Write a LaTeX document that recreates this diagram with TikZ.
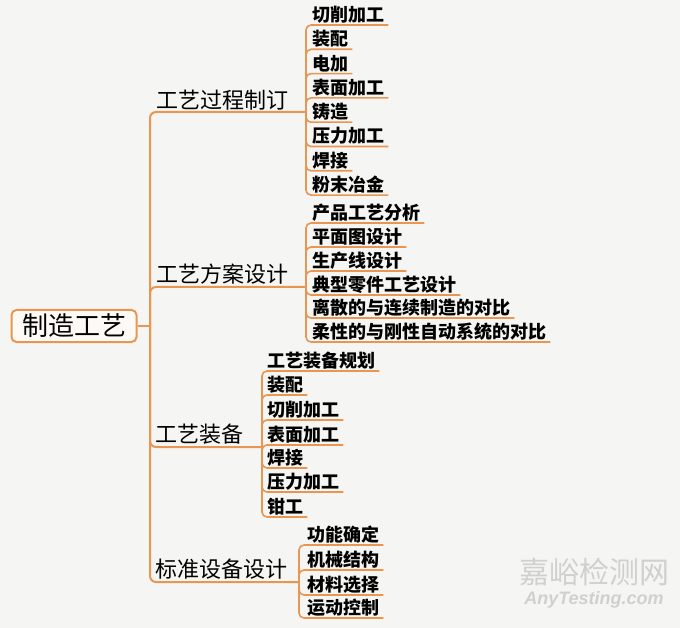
\documentclass[tikz,border=0pt]{standalone}
\usepackage{fontspec}
\usepackage{xcolor}
\setmainfont{Noto Sans CJK SC}
\newfontfamily\markfont{Liberation Sans}
\definecolor{branchorange}{RGB}{232,150,82}
\definecolor{paper}{RGB}{245,245,243}
\definecolor{rootfill}{RGB}{253,250,246}
\definecolor{markgray}{RGB}{208,208,208}
\tikzstyle{rootbox} = [rectangle,
                       rounded corners=5pt,
                       minimum width=125pt,
                       minimum height=32pt,
                       draw=branchorange,
                       line width=2pt,
                       fill=rootfill,
                       font=\fontsize{26}{26}\selectfont]
\tikzstyle{topic} = [anchor=south west,
                     inner xsep=4pt,
                     inner ysep=2pt,
                     font=\fontsize{22}{22}\selectfont]
\tikzstyle{leaf} = [anchor=south west,
                    inner xsep=4pt,
                    inner ysep=1.5pt,
                    font=\bfseries\fontsize{18}{18}\selectfont]
\tikzstyle{trunk} = [draw=branchorange,
                     line width=2pt,
                     rounded corners=6pt]
\tikzstyle{twig} = [draw=branchorange,
                    line width=1.6pt,
                    rounded corners=5pt]
\tikzstyle{watermark} = [text=markgray]

\begin{document}
\begin{tikzpicture}[x=1pt, y=-1pt]
    \fill [paper] (0,0) rectangle (680,628);

    \node (root) [rootbox] at (74,326) {制造工艺};
    \coordinate (spine) at (150,326);

    \coordinate (j1) at (306,112);
    \coordinate (j2) at (306,287);
    \coordinate (j3) at (262,447);
    \coordinate (j4) at (299,582);

    \node (t1) [topic] at (152,112) {工艺过程制订};
    \node (t2) [topic] at (152,287) {工艺方案设计};
    \node (t3) [topic] at (151,447) {工艺装备};
    \node (t4) [topic] at (151,582) {标准设备设计};

    \node (c11) [leaf] at (308,25.0)  {切削加工};
    \node (c12) [leaf] at (308,49.3)  {装配};
    \node (c13) [leaf] at (308,73.6)  {电加};
    \node (c14) [leaf] at (308,97.9)  {表面加工};
    \node (c15) [leaf] at (308,122.2) {铸造};
    \node (c16) [leaf] at (308,146.5) {压力加工};
    \node (c17) [leaf] at (308,170.8) {焊接};
    \node (c18) [leaf] at (308,195.1) {粉末冶金};

    \node (c21) [leaf] at (308,223) {产品工艺分析};
    \node (c22) [leaf] at (308,247) {平面图设计};
    \node (c23) [leaf] at (308,271) {生产线设计};
    \node (c24) [leaf] at (308,295) {典型零件工艺设计};
    \node (c25) [leaf] at (308,318) {离散的与连续制造的对比};
    \node (c26) [leaf] at (308,342) {柔性的与刚性自动系统的对比};

    \node (c31) [leaf] at (263,371) {工艺装备规划};
    \node (c32) [leaf] at (263,395) {装配};
    \node (c33) [leaf] at (263,420) {切削加工};
    \node (c34) [leaf] at (263,445) {表面加工};
    \node (c35) [leaf] at (263,468) {焊接};
    \node (c36) [leaf] at (263,492) {压力加工};
    \node (c37) [leaf] at (263,517) {钳工};

    \node (c41) [leaf] at (303,545) {功能确定};
    \node (c42) [leaf] at (303,570) {机械结构};
    \node (c43) [leaf] at (303,595) {材料选择};
    \node (c44) [leaf] at (303,618) {运动控制};

    \node (mark) [watermark, font=\fontsize{30}{30}\selectfont] at (594,572) {嘉峪检测网};
    \node (url)  [watermark, font=\markfont\itshape\bfseries\fontsize{18}{18}\selectfont] at (594,600) {AnyTesting.com};

    \draw [trunk] (root.east) -- (spine);
    \draw [trunk] (spine) |- (j1);
    \draw [trunk] (spine) |- (j2);
    \draw [trunk] (spine) |- (j3);
    \draw [trunk] (spine) |- (j4);

    \draw [twig] (j1) |- (c11.south east);
    \draw [twig] (j1) |- (c12.south east);
    \draw [twig] (j1) |- (c13.south east);
    \draw [twig] (j1) |- (c14.south east);
    \draw [twig] (j1) |- (c15.south east);
    \draw [twig] (j1) |- (c16.south east);
    \draw [twig] (j1) |- (c17.south east);
    \draw [twig] (j1) |- (c18.south east);

    \draw [twig] (j2) |- (c21.south east);
    \draw [twig] (j2) |- (c22.south east);
    \draw [twig] (j2) |- (c23.south east);
    \draw [twig] (j2) |- (c24.south east);
    \draw [twig] (j2) |- (c25.south east);
    \draw [twig] (j2) |- (c26.south east);

    \draw [twig] (j3) |- (c31.south east);
    \draw [twig] (j3) |- (c32.south east);
    \draw [twig] (j3) |- (c33.south east);
    \draw [twig] (j3) |- (c34.south east);
    \draw [twig] (j3) |- (c35.south east);
    \draw [twig] (j3) |- (c36.south east);
    \draw [twig] (j3) |- (c37.south east);

    \draw [twig] (j4) |- (c41.south east);
    \draw [twig] (j4) |- (c42.south east);
    \draw [twig] (j4) |- (c43.south east);
    \draw [twig] (j4) |- (c44.south east);
\end{tikzpicture}
\end{document}
